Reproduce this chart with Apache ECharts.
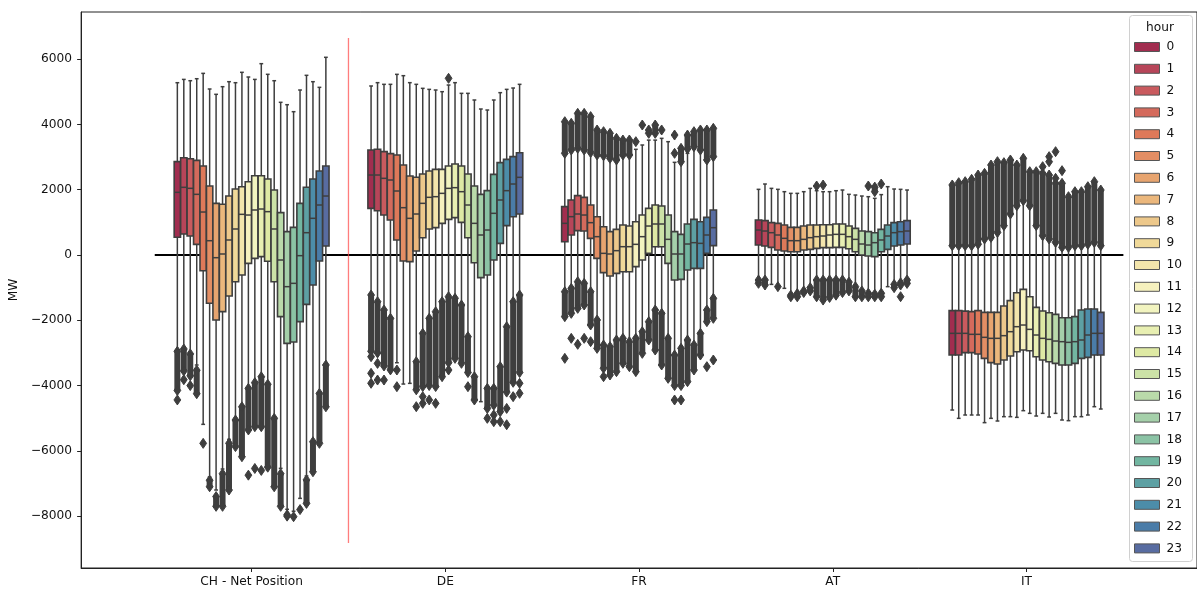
<!DOCTYPE html>
<html>
<head>
<meta charset="utf-8">
<script src="https://cdn.jsdelivr.net/npm/echarts@6/dist/echarts.min.js"></script>
<style>
  html, body { margin: 0; padding: 0; background: #fff; }
  #chart { width: 1197px; height: 590px; }
</style>
</head>
<body>
<div id="chart"></div>
<script>
  const categories = ['CH - Net Position', 'DE', 'FR', 'AT', 'IT'];
  const hours = [0, 1, 2, 3, 4, 5, 6, 7, 8, 9, 10, 11, 12, 13, 14, 15, 16, 17, 18, 19, 20, 21, 22, 23];
  const yTicks = [-8000, -6000, -4000, -2000, 0, 2000, 4000, 6000];

  // five-number summaries per hour (MW): lower whisker, Q1, median, Q3, upper whisker
  const chLow = [-2900, -2850, -3000, -3370, -5188, -6800, -7200, -6556, -5647, -5000, -4600, -4050, -3880, -3700, -3930, -4970, -6536, -7791, -7850, -7456, -6770, -5690, -4200, -3340];
  const chQ1 = [542, 643, 582, 327, -481, -1480, -1991, -1736, -1256, -817, -613, -256, -102, -51, -190, -817, -1889, -2706, -2665, -2042, -1511, -919, -184, 276];
  const chMed = [1920, 2074, 2043, 1859, 1317, 438, -82, 31, 460, 797, 1246, 1225, 1379, 1409, 1328, 797, -153, -970, -868, -20, 684, 1124, 1532, 1807];
  const chQ3 = [2860, 2982, 2951, 2900, 2727, 2114, 1583, 1553, 1807, 2022, 2093, 2246, 2430, 2430, 2328, 1991, 1297, 715, 848, 1583, 2074, 2328, 2573, 2727];
  const chHigh = [5279, 5380, 5340, 5401, 5565, 5086, 4923, 5157, 5310, 5279, 5597, 5453, 5380, 5862, 5536, 5340, 4678, 4605, 4391, 5055, 5505, 5310, 5137, 6057];

  const deLow = [-1200, -1400, -1660, -1910, -3300, -3953, -3932, -3240, -2380, -1910, -1710, -1400, -1250, -1300, -1500, -2480, -3700, -4493, -4060, -4060, -3400, -2170, -1400, -1200];
  const deQ1 = [1430, 1358, 1225, 1072, 460, -184, -204, 123, 531, 797, 838, 970, 1092, 1144, 1001, 531, -235, -694, -613, -153, 357, 899, 1174, 1256];
  const deMed = [2451, 2451, 2349, 2298, 1961, 1450, 1123, 1256, 1583, 1767, 1787, 1889, 2042, 2063, 1940, 1532, 970, 613, 766, 1277, 1685, 1971, 2175, 2380];
  const deQ3 = [3217, 3238, 3166, 3105, 3064, 2757, 2420, 2380, 2482, 2574, 2625, 2625, 2727, 2788, 2727, 2482, 2114, 1859, 1971, 2471, 2829, 2931, 3013, 3135];
  const deHigh = [5178, 5280, 5229, 5229, 5535, 5494, 5280, 5229, 5106, 5075, 5055, 5004, 5208, 5280, 4953, 4953, 4749, 4473, 4442, 4749, 4974, 5075, 5116, 5229];

  const frLow = [-1100, -1000, -800, -850, -1100, -1960, -2730, -2780, -2580, -2530, -2630, -2530, -2320, -2010, -1660, -1760, -2530, -3040, -2830, -2580, -2730, -2370, -1660, -1300];
  const frQ1 = [408, 613, 746, 735, 511, -102, -541, -643, -562, -511, -511, -357, -153, 51, 255, 255, -255, -766, -746, -460, -408, -408, 51, 286];
  const frMed = [970, 1174, 1256, 1225, 991, 562, 51, 31, 133, 255, 255, 327, 562, 888, 950, 950, 480, 31, 31, 337, 378, 357, 613, 837];
  const frQ3 = [1481, 1685, 1818, 1767, 1532, 1174, 868, 715, 786, 919, 888, 1021, 1225, 1430, 1532, 1501, 1225, 715, 633, 950, 1092, 1021, 1154, 1379];
  const frHigh = [3064, 3190, 3240, 3190, 3100, 3040, 3000, 2930, 2880, 3040, 3040, 3238, 3370, 3520, 3520, 3574, 3472, 2839, 2780, 3115, 3250, 3190, 2880, 2980];

  const atLow = [-740, -740, -900, -940, -1021, -1200, -1150, -1080, -980, -740, -740, -740, -740, -740, -800, -930, -1080, -1150, -1180, -1150, -970, -870, -820, -740];
  const atQ1 = [306, 276, 235, 153, 123, 102, 102, 153, 174, 204, 225, 225, 235, 235, 194, 102, 0, -31, -51, 102, 174, 276, 306, 337];
  const atMed = [766, 735, 684, 613, 511, 439, 439, 480, 531, 562, 582, 613, 633, 633, 562, 480, 337, 306, 378, 460, 582, 684, 715, 735];
  const atQ3 = [1072, 1052, 991, 970, 919, 848, 848, 888, 919, 919, 929, 929, 950, 950, 888, 817, 735, 715, 684, 786, 919, 991, 1021, 1052];
  const atHigh = [2012, 2175, 2042, 2012, 1940, 1889, 1889, 1940, 2042, 1970, 1940, 1940, 1970, 1991, 1859, 1838, 1807, 1787, 1736, 1850, 2093, 2022, 2012, 1991];

  const itLow = [-4749, -5004, -4902, -4902, -4902, -5136, -5004, -5086, -4953, -4953, -4974, -4769, -4851, -4933, -4851, -4963, -4851, -5055, -5075, -4953, -4953, -4902, -4647, -4718];
  const itQ1 = [-3064, -3064, -2992, -2992, -3033, -3166, -3298, -3339, -3217, -3094, -2962, -2911, -2931, -3115, -3217, -3268, -3319, -3370, -3370, -3319, -3166, -3135, -3064, -3064];
  const itMed = [-2400, -2400, -2400, -2430, -2430, -2522, -2553, -2553, -2471, -2349, -2196, -2145, -2278, -2451, -2553, -2584, -2635, -2655, -2676, -2655, -2604, -2451, -2400, -2400];
  const itQ3 = [-1705, -1705, -1720, -1736, -1705, -1757, -1757, -1757, -1563, -1399, -1154, -1052, -1277, -1604, -1716, -1767, -1818, -1920, -1920, -1889, -1685, -1654, -1654, -1757];
  const itHigh = [255, 255, 255, 255, 300, 460, 511, 664, 868, 1225, 1481, 1634, 1481, 868, 562, 460, 357, 204, 204, 255, 255, 300, 357, 255];

  // outliers per hour: [from, to] runs of stacked diamonds, or [value] for a single one
  const chFliers = [
    [[-2950, -4150], [-4440]], [[-2880, -3550], [-3820]], [[-3030, -3700], [-4000]], [[-3530, -4250]],
    [[-5770]], [[-6900, -7100]], [[-7400, -7700]], [[-6700, -7700]],
    [[-5770, -7200]], [[-5055, -5870]], [[-4650, -6180]], [[-4085, -5360], [-6745]],
    [[-3910, -5260], [-6540]], [[-3730, -5260], [-6600]], [[-3960, -6500]], [[-5004, -7100]],
    [[-6700, -7700]], [[-7960, -8000]], [[-8017]], [[-7800]],
    [[-6890, -7610]], [[-5720, -6640]], [[-4240, -5770]], [[-3370, -4650]]
  ];
  const deFliers = [
    [[-1225, -2950], [-3115], [-3625], [-3930]], [[-1430, -3000], [-3320], [-3830]], [[-1685, -3400], [-3830]], [[-1940, -3520]],
    [[-3523], [-4034]], [], [], [[-3268, -4130], [-4646]],
    [[-2400, -4030], [-4340], [-4545]], [[-1940, -4000], [-4440]], [[-1736, -4030], [-4545]], [[-1430, -3727]],
    [[-1276, -3300], [-3523], [5413]], [[-1327, -3166]], [[-1532, -3319]], [[-2502, -3600], [-4034]],
    [[-3727, -4442]], [], [[-4085, -4700], [-5004]], [[-4085, -4600], [-4900], [-5106]],
    [[-3421, -4800], [-5106]], [[-2196, -4200], [-4700], [-5200]], [[-1430, -3900], [-4340]], [[-1225, -3600], [-3930], [-4238]]
  ];
  const frFliers = [
    [[3115, 4085], [-1123, -1889], [-3166]], [[3217, 4034], [-1021, -1787], [-2553]], [[3268, 4340], [-817, -1634], [-2736]], [[3217, 4340], [-868, -1532], [-2553]],
    [[3140, 4240], [-1123, -2144], [-2655]], [[3064, 3830], [-1991, -2860]], [[3040, 3779], [-2757, -3472], [-3727]], [[2962, 3728], [-2809, -3676]],
    [[2911, 3574], [-2604, -3574]], [[3064, 3523], [-2553, -3319]], [[3064, 3523], [-2655, -3421]], [[3472], [-2553, -3574]],
    [[3983], [-2349, -3013]], [[3728, 3830], [-2042, -2604]], [[3728, 3983], [-1685, -2911]], [[3830], [-1787, -3370]],
    [[-2553, -3779]], [[3115], [3676], [-3064, -4000], [-4442]], [[2860, 3268], [-2860, -4000], [-4442]], [[3250, 3676], [-2604, -3881]],
    [[3319, 3779], [-2757, -3523]], [[3217, 3830], [-2400, -3064]], [[2911, 3830], [-1685, -2042], [-3421]], [[3013, 3881], [-1327, -1940], [-3217]]
  ];
  const atFliers = [
    [[-766, -868]], [[-766, -919]], [], [[-970]],
    [], [[-1230, -1280]], [[-1180, -1280]], [[-1100, -1150]],
    [[-1000, -1100]], [[2114], [-766, -1280]], [[2144], [-766, -1380]], [[-766, -1300]],
    [[-766, -1230]], [[-766, -1150]], [[-830, -1100]], [[-970, -1280]],
    [[-1100, -1280]], [[2114], [-1170, -1280]], [[1940, 2080], [-1200, -1280]], [[2175], [-1170, -1280]],
    [], [[-900, -1000]], [[-850, -920], [-1277]], [[-766, -870]]
  ];
  const itFliers = [
    [[285, 2145]], [[285, 2216]], [[285, 2247]], [[285, 2318]],
    [[330, 2451]], [[490, 2502]], [[540, 2757]], [[690, 2860]],
    [[900, 2829]], [[1255, 2911]], [[1510, 2757]], [[1665, 2962]],
    [[1510, 2553]], [[900, 2553]], [[590, 2502], [2706]], [[490, 2451], [2859], [3013]],
    [[385, 2196], [2349], [3166]], [[235, 2196], [2584]], [[235, 1787]], [[285, 1940]],
    [[285, 1940]], [[330, 2093]], [[385, 2247]], [[285, 1991]]
  ];

  // reference lines
  const zeroLineX = [-0.5, 4.5];
  const dividerX = 0.5;
  const dividerY = [-8820, 6650];

  const lows = [chLow, deLow, frLow, atLow, itLow];
  const q1s = [chQ1, deQ1, frQ1, atQ1, itQ1];
  const meds = [chMed, deMed, frMed, atMed, itMed];
  const q3s = [chQ3, deQ3, frQ3, atQ3, itQ3];
  const highs = [chHigh, deHigh, frHigh, atHigh, itHigh];
  const fliers = [chFliers, deFliers, frFliers, atFliers, itFliers];

  const FONT = 'DejaVu Sans';
  const FONT_SIZE = 12.2;
  const GROUP_W = 0.8;
  const BOX_W = GROUP_W / hours.length * 0.98;

  // seaborn "Spectral" palette, desaturated to 0.75
  const SPECTRAL = [[158, 1, 66], [213, 62, 79], [244, 109, 67], [253, 174, 97], [254, 224, 139], [255, 255, 191],
    [230, 245, 152], [171, 221, 164], [102, 194, 165], [50, 136, 189], [94, 79, 162]];
  function spectral(t) {
    const s = t * 10;
    const i = Math.min(9, Math.floor(s));
    const f = s - i;
    return [0, 1, 2].map(k => (SPECTRAL[i][k] + (SPECTRAL[i + 1][k] - SPECTRAL[i][k]) * f) / 255);
  }
  function desaturate(rgb, prop) {
    const [r, g, b] = rgb;
    const mx = Math.max(r, g, b), mn = Math.min(r, g, b);
    const l = (mx + mn) / 2;
    if (mx === mn) return rgb;
    const d = mx - mn;
    const s = l > 0.5 ? d / (2 - mx - mn) : d / (mx + mn);
    let h;
    if (mx === r) h = (g - b) / d + (g < b ? 6 : 0);
    else if (mx === g) h = (b - r) / d + 2;
    else h = (r - g) / d + 4;
    h /= 6;
    const s2 = s * prop;
    const q = l < 0.5 ? l * (1 + s2) : l + s2 - l * s2;
    const p = 2 * l - q;
    const hue = (t) => {
      if (t < 0) t += 1;
      if (t > 1) t -= 1;
      if (t < 1 / 6) return p + (q - p) * 6 * t;
      if (t < 1 / 2) return q;
      if (t < 2 / 3) return p + (q - p) * (2 / 3 - t) * 6;
      return p;
    };
    return [hue(h + 1 / 3), hue(h), hue(h - 1 / 3)];
  }
  const toHex = (rgb) => '#' + rgb.map(v => Math.round(v * 255).toString(16).padStart(2, '0')).join('');
  const rawColors = hours.map((h, i) => spectral((i + 1) / (hours.length + 1)));
  const colors = rawColors.map(c => toHex(desaturate(c, 0.75)));
  const lum = Math.min(...rawColors.map(c => (Math.max(...c) + Math.min(...c)) / 2)) * 0.6;
  const GRAY = toHex([lum, lum, lum]);

  const hueOffset = (h) => -GROUP_W / 2 + (h + 0.5) * GROUP_W / hours.length;

  function renderBox(hour) {
    return function (params, api) {
      const x = api.value(0) + hueOffset(hour);
      const lo = api.coord([x, api.value(1)]);
      const q1 = api.coord([x, api.value(2)]);
      const md = api.coord([x, api.value(3)]);
      const q3 = api.coord([x, api.value(4)]);
      const hi = api.coord([x, api.value(5)]);
      const w = api.size([BOX_W, 0])[0];
      const cx = lo[0];
      const cap = w * 0.3;
      const ls = { stroke: GRAY, lineWidth: 1.5 };
      return {
        type: 'group',
        children: [
          { type: 'line', shape: { x1: cx, y1: q3[1], x2: cx, y2: hi[1] }, style: ls },
          { type: 'line', shape: { x1: cx, y1: q1[1], x2: cx, y2: lo[1] }, style: ls },
          { type: 'line', shape: { x1: cx - cap, y1: hi[1], x2: cx + cap, y2: hi[1] }, style: ls },
          { type: 'line', shape: { x1: cx - cap, y1: lo[1], x2: cx + cap, y2: lo[1] }, style: ls },
          {
            type: 'rect',
            shape: { x: cx - w / 2, y: q3[1], width: w, height: q1[1] - q3[1] },
            style: { fill: api.visual('color'), stroke: GRAY, lineWidth: 1.6 }
          },
          { type: 'line', shape: { x1: cx - w / 2, y1: md[1], x2: cx + w / 2, y2: md[1] }, style: ls }
        ]
      };
    };
  }

  function diamond(p) {
    return {
      type: 'polygon',
      shape: { points: [[p[0], p[1] - 5], [p[0] + 3.4, p[1]], [p[0], p[1] + 5], [p[0] - 3.4, p[1]]] },
      style: { fill: GRAY, stroke: GRAY, lineWidth: 1 }
    };
  }

  function renderFliers(params, api) {
    const x = api.value(0) + hueOffset(api.value(1));
    const a = api.coord([x, api.value(2)]);
    const b = api.coord([x, api.value(3)]);
    const children = [];
    if (Math.abs(a[1] - b[1]) > 0.5) {
      children.push({
        type: 'rect',
        shape: { x: a[0] - 3, y: Math.min(a[1], b[1]), width: 6, height: Math.abs(b[1] - a[1]) },
        style: { fill: GRAY }
      });
      children.push(diamond(b));
    }
    children.push(diamond(a));
    return { type: 'group', children };
  }

  const boxSeries = hours.map((h) => ({
    name: String(h),
    type: 'custom',
    renderItem: renderBox(h),
    itemStyle: { color: colors[h] },
    encode: { x: 0, y: [1, 2, 3, 4, 5] },
    z: 3,
    data: categories.map((c, ci) => [ci, lows[ci][h], q1s[ci][h], meds[ci][h], q3s[ci][h], highs[ci][h]])
  }));

  const flierData = [];
  categories.forEach((c, ci) => {
    hours.forEach((h) => {
      fliers[ci][h].forEach((run) => {
        flierData.push([ci, h, run[0], run.length > 1 ? run[1] : run[0]]);
      });
    });
  });

  const chart = echarts.init(document.getElementById('chart'), null, { renderer: 'canvas' });
  const option = {
    animation: false,
    textStyle: { fontFamily: FONT },
    grid: {
      left: 80, top: 12, right: -1, bottom: 22,
      show: true, borderColor: '#222', borderWidth: 1, backgroundColor: '#fff'
    },
    xAxis: {
      type: 'value',
      min: -0.88,
      max: 4.88,
      splitLine: { show: false },
      axisLine: { show: true, onZero: false, lineStyle: { color: '#222', width: 1 } },
      axisTick: { show: true, length: 4, customValues: categories.map((c, i) => i), lineStyle: { color: '#222' } },
      axisLabel: {
        customValues: categories.map((c, i) => i),
        formatter: (v) => categories[Math.round(v)],
        color: '#111', fontSize: FONT_SIZE, fontFamily: FONT, margin: 8
      }
    },
    yAxis: {
      type: 'value',
      min: -9589,
      max: 7445,
      name: 'MW',
      nameLocation: 'middle',
      nameGap: 56,
      nameTextStyle: { color: '#111', fontSize: FONT_SIZE, fontFamily: FONT },
      splitLine: { show: false },
      axisLine: { show: true, onZero: false, lineStyle: { color: '#222', width: 1 } },
      axisTick: { show: true, length: 4, customValues: yTicks, lineStyle: { color: '#222' } },
      axisLabel: {
        customValues: yTicks,
        formatter: (v) => (v < 0 ? '\u2212' + (-v) : String(v)),
        color: '#111', fontSize: FONT_SIZE, fontFamily: FONT, margin: 9
      }
    },
    legend: {
      data: hours.map(String),
      orient: 'vertical',
      left: 1134,
      top: 41,
      z: 20,
      padding: 0,
      itemWidth: 25,
      itemHeight: 9,
      itemGap: 9.8,
      icon: 'rect',
      selectedMode: false,
      itemStyle: { borderColor: '#555', borderWidth: 1 },
      textStyle: { fontSize: FONT_SIZE, fontFamily: FONT, color: '#111', lineHeight: 12, padding: [0, 0, 0, 2] }
    },
    graphic: [
      {
        type: 'rect', left: 1129, top: 15, z: 10, silent: true,
        shape: { width: 63, height: 546, r: 3 },
        style: { fill: 'rgba(255,255,255,0.8)', stroke: '#d0d0d0', lineWidth: 1 }
      },
      {
        type: 'text', left: 1146, top: 22, z: 11, silent: true,
        style: { text: 'hour', fontSize: FONT_SIZE, fontFamily: FONT, fill: '#111' }
      }
    ],
    series: [
      {
        type: 'line',
        silent: true,
        symbol: 'none',
        z: 1,
        lineStyle: { color: '#000', width: 2 },
        data: zeroLineX.map((x) => [x, 0])
      },
      {
        type: 'line',
        silent: true,
        symbol: 'none',
        z: 1,
        lineStyle: { color: 'rgba(255,70,70,0.7)', width: 1.3 },
        data: dividerY.map((y) => [dividerX, y])
      },
      {
        type: 'custom',
        name: 'outliers',
        renderItem: renderFliers,
        encode: { x: 0, y: [2, 3] },
        z: 2,
        data: flierData
      },
      ...boxSeries
    ]
  };
  chart.setOption(option);
</script>
</body>
</html>
